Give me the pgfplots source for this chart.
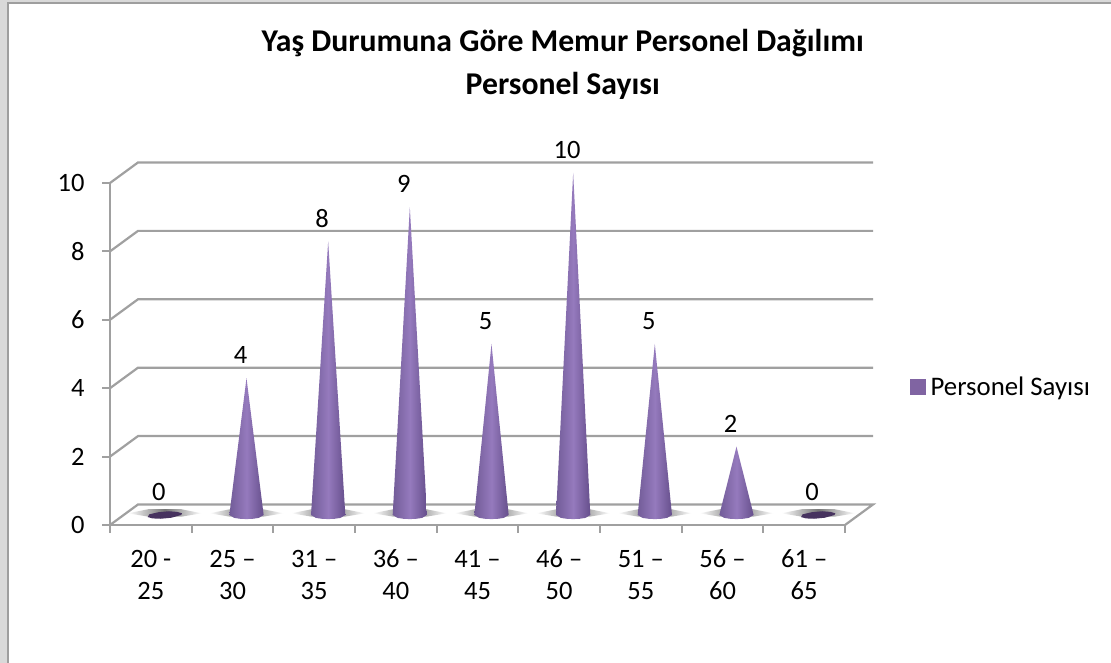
\documentclass[border=0pt]{standalone}
\usepackage{pgfplots}
\pgfplotsset{compat=1.18}
\usepackage{fontspec}
\setmainfont{Carlito}
\definecolor{gridc}{HTML}{A0A0A0}
\definecolor{coneL}{HTML}{725C98}
\definecolor{coneM}{HTML}{957ABD}
\definecolor{coneR}{HTML}{664F8C}
\definecolor{zeroC}{HTML}{47335F}
\definecolor{legC}{HTML}{8064A2}
\pgfplotsset{
  gl/.style={gridc,line width=2.2pt,forget plot},
  cone/.style={draw=none,left color=coneL,right color=coneR,middle color=coneM,xshift=14pt,yshift=10pt,forget plot},
  shad/.style={draw=none,left color=white,right color=white,middle color=black!55,xshift=14pt,yshift=10pt,forget plot},
  zero/.style={draw=none,fill=zeroC,xshift=14pt,yshift=10pt,forget plot},
}
\begin{document}
\begin{tikzpicture}[x=1pt,y=1pt]
\path[use as bounding box] (0,0) rectangle (1111,663);
\fill[black!15] (0,0) rectangle (1111,663);
\fill[white] (8,0) rectangle (1111,660);
\draw[black!38,line width=1.5pt] (8,0) -- (8,660) -- (1111,660);
\begin{axis}[
  at={(110pt,138pt)},anchor=south west,
  scale only axis,width=735pt,height=342pt,
  xmin=0,xmax=9,ymin=0,ymax=10,clip=false,
  axis x line*=bottom,axis y line*=left,
  axis line style={gridc,line width=2.2pt,-},
  tick align=outside,
  xtick={0.5,1.5,2.5,3.5,4.5,5.5,6.5,7.5,8.5},
  xticklabels={{\strut 20 -\\25},{\strut 25 –\\30},{\strut 31 –\\35},{\strut 36 –\\40},{\strut 41 –\\45},{\strut 46 –\\50},{\strut 51 –\\55},{\strut 56 –\\60},{\strut 61 –\\65}},
  minor xtick={0,1,2,3,4,5,6,7,8,9},
  major x tick style={draw=none},
  minor x tick style={gridc,line width=2pt},
  minor tick length=8pt,
  ytick={0,2,4,6,8,10},
  y tick style={gridc,line width=2pt},
  major tick length=8pt,
  /pgf/number format/assume math mode=true,
  ticklabel style={font=\fontsize{26.5}{32}\selectfont},
  xticklabel style={align=center,yshift=-9pt},
  yticklabel style={xshift=-14pt},
  title={Yaş Durumuna Göre Memur Personel Dağılımı\\Personel Sayısı},
  title style={at={(0.616,1.33)},anchor=center,align=center,font=\fontsize{31.7}{43}\selectfont\bfseries},
  legend style={draw=none,fill=none,at={(797pt,142pt)},anchor=west,font=\fontsize{26.8}{30}\selectfont,legend cell align=left},
  legend image code/.code={\fill[legC] (0pt,-7.5pt) rectangle (15pt,7.5pt);},
]
% walls
\addplot[gl] coordinates {(0,0)(0.343,0.6)(9.343,0.6)(9,0)};
\addplot[gl] coordinates {(0,2)(0.343,2.6)(9.343,2.6)};
\addplot[gl] coordinates {(0,4)(0.343,4.6)(9.343,4.6)};
\addplot[gl] coordinates {(0,6)(0.343,6.6)(9.343,6.6)};
\addplot[gl] coordinates {(0,8)(0.343,8.6)(9.343,8.6)};
\addplot[gl] coordinates {(0,10)(0.343,10.6)(9.343,10.6)};
% base shadows
\addplot[shad] coordinates {(0.05,0.05)(0.3,-0.05)(0.7,-0.05)(0.95,0.05)(0.7,0.17)(0.3,0.17)} -- cycle;
\addplot[shad] coordinates {(1.05,0.05)(1.3,-0.05)(1.7,-0.05)(1.95,0.05)(1.7,0.17)(1.3,0.17)} -- cycle;
\addplot[shad] coordinates {(2.05,0.05)(2.3,-0.05)(2.7,-0.05)(2.95,0.05)(2.7,0.17)(2.3,0.17)} -- cycle;
\addplot[shad] coordinates {(3.05,0.05)(3.3,-0.05)(3.7,-0.05)(3.95,0.05)(3.7,0.17)(3.3,0.17)} -- cycle;
\addplot[shad] coordinates {(4.05,0.05)(4.3,-0.05)(4.7,-0.05)(4.95,0.05)(4.7,0.17)(4.3,0.17)} -- cycle;
\addplot[shad] coordinates {(5.05,0.05)(5.3,-0.05)(5.7,-0.05)(5.95,0.05)(5.7,0.17)(5.3,0.17)} -- cycle;
\addplot[shad] coordinates {(6.05,0.05)(6.3,-0.05)(6.7,-0.05)(6.95,0.05)(6.7,0.17)(6.3,0.17)} -- cycle;
\addplot[shad] coordinates {(7.05,0.05)(7.3,-0.05)(7.7,-0.05)(7.95,0.05)(7.7,0.17)(7.3,0.17)} -- cycle;
\addplot[shad] coordinates {(8.05,0.05)(8.3,-0.05)(8.7,-0.05)(8.95,0.05)(8.7,0.17)(8.3,0.17)} -- cycle;
% zero-height bars: flat discs
\addplot[zero] coordinates {(0.29,-0.06)(0.35,-0.10)(0.45,-0.11)(0.58,-0.08)(0.70,0.0)(0.71,0.05)(0.65,0.09)(0.55,0.11)(0.42,0.08)(0.31,0.02)} -- cycle;
\addplot[zero] coordinates {(8.29,-0.06)(8.35,-0.10)(8.45,-0.11)(8.58,-0.08)(8.70,0.0)(8.71,0.05)(8.65,0.09)(8.55,0.11)(8.42,0.08)(8.31,0.02)} -- cycle;
% cones
\addplot[cone] coordinates {(1.29,0)(1.35,-0.085)(1.42,-0.11)(1.5,-0.12)(1.58,-0.11)(1.65,-0.085)(1.71,0)(1.5,4)} -- cycle;
\addplot[cone] coordinates {(2.29,0)(2.35,-0.085)(2.42,-0.11)(2.5,-0.12)(2.58,-0.11)(2.65,-0.085)(2.71,0)(2.5,8)} -- cycle;
\addplot[cone] coordinates {(3.29,0)(3.35,-0.085)(3.42,-0.11)(3.5,-0.12)(3.58,-0.11)(3.65,-0.085)(3.71,0)(3.5,9)} -- cycle;
\addplot[cone] coordinates {(4.29,0)(4.35,-0.085)(4.42,-0.11)(4.5,-0.12)(4.58,-0.11)(4.65,-0.085)(4.71,0)(4.5,5)} -- cycle;
\addplot[cone] coordinates {(5.29,0)(5.35,-0.085)(5.42,-0.11)(5.5,-0.12)(5.58,-0.11)(5.65,-0.085)(5.71,0)(5.5,10)} -- cycle;
\addplot[cone] coordinates {(6.29,0)(6.35,-0.085)(6.42,-0.11)(6.5,-0.12)(6.58,-0.11)(6.65,-0.085)(6.71,0)(6.5,5)} -- cycle;
\addplot[cone] coordinates {(7.29,0)(7.35,-0.085)(7.42,-0.11)(7.5,-0.12)(7.58,-0.11)(7.65,-0.085)(7.71,0)(7.5,2)} -- cycle;
% data labels
\addplot[draw=none,mark=none,forget plot,nodes near coords,point meta=y,
  every node near coord/.style={anchor=center,xshift=8pt,yshift=33pt,font=\fontsize{26.5}{30}\selectfont,/pgf/number format/assume math mode=true}]
  coordinates {(0.5,0)(1.5,4)(2.5,8)(3.5,9)(4.5,5)(5.5,10)(6.5,5)(7.5,2)(8.5,0)};
\addlegendimage{}
\addlegendentry{\hspace{3pt}Personel Sayısı}
\end{axis}
\end{tikzpicture}
\end{document}
